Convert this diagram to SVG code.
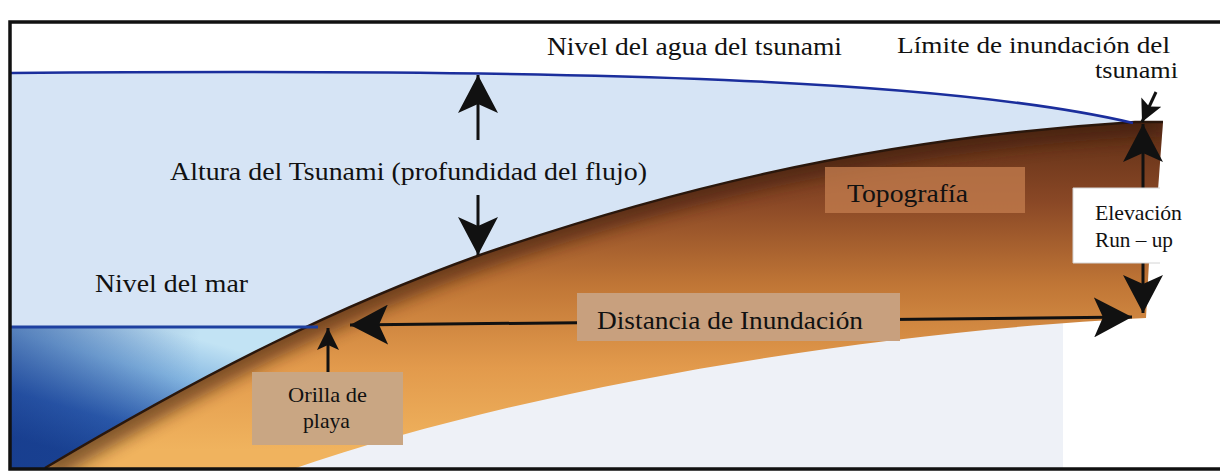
<svg xmlns="http://www.w3.org/2000/svg" width="1220" height="474" viewBox="0 0 1220 474">
  <style>
    .lbl { font-family: "Liberation Serif", "Times New Roman", serif; fill: #111; }
    .big { font-size: 26px; }
    .mid { font-size: 23px; }
    .small { font-size: 21px; }
    .shaft { stroke: #111; stroke-width: 3; fill: none; }
    .box { stroke: none; }
  </style>
  <defs>
    <linearGradient id="groundFill" gradientUnits="userSpaceOnUse" x1="0" y1="120" x2="0" y2="450">
      <stop offset="0" stop-color="#5c2d15"/>
      <stop offset="0.25" stop-color="#8a4826"/>
      <stop offset="0.5" stop-color="#c07636"/>
      <stop offset="0.75" stop-color="#e29a4c"/>
      <stop offset="1" stop-color="#f0b35e"/>
    </linearGradient>
    <linearGradient id="seaFill" gradientUnits="userSpaceOnUse" x1="160" y1="328" x2="120" y2="468">
      <stop offset="0" stop-color="#c2e3f4"/>
      <stop offset="0.3" stop-color="#86b8e2"/>
      <stop offset="0.7" stop-color="#2e5fb0"/>
      <stop offset="1" stop-color="#1a4494"/>
    </linearGradient>
    <linearGradient id="seaShade" gradientUnits="userSpaceOnUse" x1="11" y1="0" x2="200" y2="0">
      <stop offset="0" stop-color="#16388a" stop-opacity="0.45"/>
      <stop offset="1" stop-color="#16388a" stop-opacity="0"/>
    </linearGradient>
    <clipPath id="groundClip">
      <path d="M45,468 C210,370 340,305 480,255 C640,200 850,140 1135,122 L1163,122 L1158,190 L1149,262 L1146,318 C900,330 550,380 290,470 Z"/>
    </clipPath>
    <filter id="soft" x="-10%" y="-30%" width="120%" height="160%">
      <feGaussianBlur stdDeviation="8"/>
    </filter>
    <marker id="head" viewBox="0 0 38 40" refX="38" refY="20" markerWidth="38" markerHeight="40" markerUnits="userSpaceOnUse" orient="auto-start-reverse">
      <path d="M38,20 L0,0 L9,20 L0,40 Z" fill="#111"/>
    </marker>
    <marker id="headSmall" viewBox="0 0 22 22" refX="22" refY="11" markerWidth="22" markerHeight="22" markerUnits="userSpaceOnUse" orient="auto-start-reverse">
      <path d="M22,11 L0,0 L5,11 L0,22 Z" fill="#111"/>
    </marker>
  </defs>

  <!-- cross-section: water, sea and land -->
  <g id="scene">
    <rect x="0" y="0" width="1220" height="474" fill="#ffffff"/>
    <!-- flooded water body under the tsunami surface -->
    <path d="M11,73 C600,68 950,80 1133,123 L1133,200 L340,330 L11,330 Z" fill="#d6e4f5"/>
    <!-- pale area beneath the land -->
    <path d="M318,327 L1063,300 L1063,468 L200,468 Z" fill="#eef1f7"/>
    <!-- sea -->
    <path d="M11,327 L320,327 L288,469 L11,469 Z" fill="url(#seaFill)"/>
    <path d="M11,327 L320,327 L288,469 L11,469 Z" fill="url(#seaShade)"/>
    <!-- land -->
    <path d="M45,468 C210,370 340,305 480,255 C640,200 850,140 1135,122 L1163,122 L1158,190 L1149,262 L1146,318 C900,330 550,380 290,470 Z" fill="url(#groundFill)"/>
    <path d="M45,468 C210,370 340,305 480,255 C640,200 850,140 1135,122 L1163,122" fill="none" stroke="#3e1c0b" stroke-width="30" opacity="0.6" filter="url(#soft)" clip-path="url(#groundClip)"/>
    <path d="M45,468 C210,370 340,305 480,255 C640,200 850,140 1135,122 L1163,122" fill="none" stroke="#2a170c" stroke-width="2.5"/>
    <!-- tsunami water surface and sea level -->
    <path d="M11,73 C600,68 950,80 1133,123" fill="none" stroke="#1b2e9c" stroke-width="2.5"/>
    <line x1="11" y1="327" x2="318" y2="327" stroke="#1e40a0" stroke-width="3"/>
    <!-- frame -->
    <path d="M1220,22 L10,22 L10,469 L1220,469" fill="none" stroke="#111" stroke-width="3.5"/>
  </g>

  <g id="connectors">
    <line class="shaft" x1="478" y1="140" x2="478" y2="75" marker-end="url(#head)"/>
    <line class="shaft" x1="478" y1="195" x2="478" y2="255" marker-end="url(#head)"/>
    <line class="shaft" x1="350" y1="325" x2="1132" y2="317" marker-start="url(#head)" marker-end="url(#head)"/>
    <line class="shaft" x1="1143" y1="188" x2="1143" y2="124" marker-end="url(#head)"/>
    <line class="shaft" x1="1143" y1="263" x2="1143" y2="313" marker-end="url(#head)"/>
    <line class="shaft" x1="328" y1="372" x2="328" y2="328" marker-end="url(#headSmall)"/>
    <line class="shaft" x1="1156" y1="92" x2="1142" y2="122" marker-end="url(#headSmall)"/>
  </g>

  <g id="nivel-agua">
    <text class="lbl big" x="547" y="55" textLength="295" lengthAdjust="spacingAndGlyphs">Nivel del agua del tsunami</text>
  </g>
  <g id="limite-inundacion">
    <text class="lbl mid" x="897" y="53" textLength="273" lengthAdjust="spacingAndGlyphs">Límite de inundación del</text>
    <text class="lbl mid" x="1095" y="78" textLength="83" lengthAdjust="spacingAndGlyphs">tsunami</text>
  </g>
  <g id="altura">
    <text class="lbl big" x="170" y="180" textLength="477" lengthAdjust="spacingAndGlyphs">Altura del Tsunami (profundidad del flujo)</text>
  </g>
  <g id="topografia">
    <rect class="box" x="825" y="167" width="200" height="46" fill="#c07a4c" opacity="0.8"/>
    <text class="lbl big" x="847" y="202" textLength="121" lengthAdjust="spacingAndGlyphs">Topografía</text>
  </g>
  <g id="nivel-mar">
    <text class="lbl big" x="95" y="292" textLength="153" lengthAdjust="spacingAndGlyphs">Nivel del mar</text>
  </g>
  <g id="distancia">
    <rect class="box" x="577" y="293" width="323" height="48" fill="#c8a07e"/>
    <text class="lbl big" x="597" y="329" textLength="266" lengthAdjust="spacingAndGlyphs">Distancia de Inundación</text>
  </g>
  <g id="orilla">
    <rect class="box" x="252" y="372" width="151" height="73" fill="#c9a683"/>
    <text class="lbl small" x="288" y="402" textLength="79" lengthAdjust="spacingAndGlyphs">Orilla de</text>
    <text class="lbl small" x="303" y="428" textLength="47" lengthAdjust="spacingAndGlyphs">playa</text>
  </g>
  <g id="elevacion">
    <rect class="box" x="1073" y="188" width="120" height="75" fill="#ffffff"/>
    <path d="M1160,188 L1073,188 L1073,263 L1160,263" fill="none" stroke="#d4d4d4" stroke-width="1"/>
    <text class="lbl small" x="1095" y="220" textLength="87" lengthAdjust="spacingAndGlyphs">Elevación</text>
    <text class="lbl small" x="1095" y="247" textLength="78" lengthAdjust="spacingAndGlyphs">Run – up</text>
  </g>
</svg>
